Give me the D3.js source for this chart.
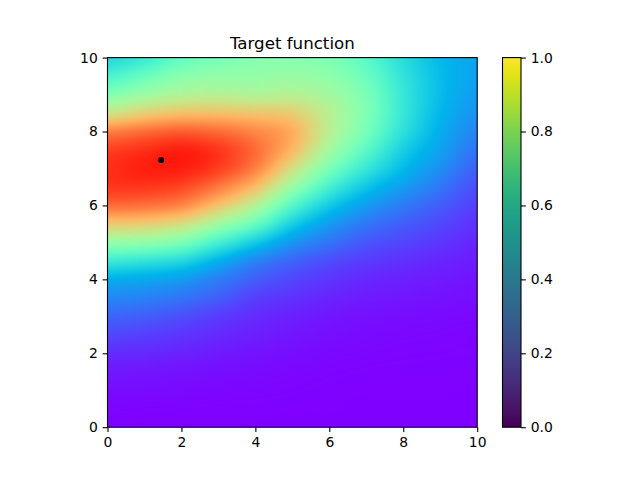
<!DOCTYPE html>
<html><head><meta charset="utf-8">
<script src="https://cdn.jsdelivr.net/npm/d3@7/dist/d3.min.js"></script>
<style>body{margin:0;background:#fff}svg{display:block}</style>
</head><body>
<script>
// ---- data ----
const title = "Target function";
const xGrid = [0,1,2,3,4,5,6,7,8,9,10];
const yGrid = [10,9.5,9,8.5,8,7.5,7,6.5,6,5.5,5,4.5,4,3.5,3,2.5,2,1.5,1,0.5,0];
// one column of values per x in xGrid, listed top (y=10) to bottom (y=0)
const colX0  = [0.32,0.40,0.51,0.65,0.83,0.92,0.94,0.93,0.86,0.71,0.54,0.37,0.24,0.18,0.13,0.09,0.055,0.03,0.015,0.005,0];
const colX1  = [0.37,0.46,0.56,0.70,0.86,0.94,0.96,0.93,0.85,0.70,0.53,0.35,0.23,0.17,0.12,0.08,0.05,0.027,0.013,0.004,0];
const colX2  = [0.45,0.52,0.60,0.73,0.88,0.96,0.96,0.91,0.82,0.66,0.49,0.32,0.21,0.15,0.10,0.068,0.042,0.022,0.011,0.003,0];
const colX3  = [0.49,0.54,0.61,0.73,0.86,0.93,0.92,0.84,0.72,0.56,0.39,0.245,0.165,0.12,0.075,0.052,0.032,0.017,0.008,0.002,0];
const colX4  = [0.52,0.54,0.60,0.72,0.82,0.86,0.83,0.73,0.60,0.45,0.29,0.175,0.12,0.08,0.055,0.038,0.023,0.012,0.006,0.002,0];
const colX5  = [0.52,0.55,0.61,0.70,0.76,0.74,0.66,0.55,0.42,0.30,0.20,0.13,0.09,0.062,0.04,0.027,0.016,0.008,0.004,0.001,0];
const colX6  = [0.50,0.53,0.57,0.61,0.61,0.57,0.49,0.39,0.29,0.21,0.15,0.098,0.067,0.045,0.028,0.018,0.01,0.005,0.002,0.001,0];
const colX7  = [0.43,0.46,0.49,0.50,0.48,0.43,0.36,0.28,0.21,0.155,0.11,0.075,0.05,0.034,0.02,0.012,0.007,0.003,0.001,0,0];
const colX8  = [0.33,0.35,0.36,0.36,0.34,0.30,0.26,0.21,0.16,0.12,0.088,0.06,0.04,0.027,0.015,0.009,0.005,0.002,0.001,0,0];
const colX9  = [0.26,0.265,0.265,0.255,0.24,0.22,0.19,0.155,0.12,0.092,0.068,0.047,0.032,0.021,0.012,0.007,0.004,0.002,0.001,0,0];
const colX10 = [0.225,0.22,0.21,0.195,0.175,0.15,0.125,0.10,0.08,0.062,0.047,0.035,0.024,0.016,0.009,0.005,0.003,0.001,0,0,0];
const bestPoint = [1.45, 7.23];
const axisTicks = [0,2,4,6,8,10];
const cbarTicks = [0,0.2,0.4,0.6,0.8,1.0];

const columns = [colX0,colX1,colX2,colX3,colX4,colX5,colX6,colX7,colX8,colX9,colX10];

// ---- layout ----
const W = 640, H = 480;
const L = 107.5, R = 477.2, T = 57.6, B = 427.2;
const cbL = 502.5, cbR = 521;
const font = "'DejaVu Sans', sans-serif";

const x = d3.scaleLinear().domain([0,10]).range([L,R]);
const y = d3.scaleLinear().domain([0,10]).range([B,T]);
const xi = d3.scaleLinear().domain(d3.extent(xGrid)).range([0, xGrid.length-1]);
const yi = d3.scaleLinear().domain([yGrid[0], yGrid[yGrid.length-1]]).range([0, yGrid.length-1]);

function rainbow(v){
  v = Math.max(0, Math.min(1, v));
  const r = Math.min(1, Math.abs(2*v - 0.5));
  const g = Math.sin(Math.PI*v);
  const b = Math.cos(Math.PI*v/2);
  return [Math.round(r*255), Math.round(g*255), Math.round(b*255)];
}
function cub(p0,p1,p2,p3,t){
  return p1 + 0.5*t*(p2 - p0 + t*(2*p0 - 5*p1 + 4*p2 - p3 + t*(3*(p1 - p2) + p3 - p0)));
}
function val(ci, ri){
  ci = Math.max(0, Math.min(columns.length-1, ci));
  ri = Math.max(0, Math.min(yGrid.length-1, ri));
  return columns[ci][ri];
}
function sample(dx, dy){
  const fx = xi(dx), fy = yi(dy);
  const i = Math.min(Math.floor(fx), columns.length-2), j = Math.min(Math.floor(fy), yGrid.length-2);
  const tx = fx - i, ty = fy - j;
  const rows = [];
  for (let m=-1; m<=2; m++){
    rows.push(cub(val(i-1,j+m), val(i,j+m), val(i+1,j+m), val(i+2,j+m), tx));
  }
  return cub(rows[0], rows[1], rows[2], rows[3], ty);
}

const pw = Math.round(R - L), ph = Math.round(B - T);
const canvas = document.createElement("canvas");
canvas.width = pw; canvas.height = ph;
const ctx = canvas.getContext("2d");
const img = ctx.createImageData(pw, ph);
for (let py=0; py<ph; py++){
  for (let px=0; px<pw; px++){
    const dx = x.invert(L + (px+0.5)*(R-L)/pw);
    const dy = y.invert(T + (py+0.5)*(B-T)/ph);
    const c = rainbow(sample(dx, dy));
    const k = (py*pw + px)*4;
    img.data[k]=c[0]; img.data[k+1]=c[1]; img.data[k+2]=c[2]; img.data[k+3]=255;
  }
}
ctx.putImageData(img, 0, 0);

const svg = d3.select("body").append("svg").attr("width", W).attr("height", H)
  .style("font-family", font);

svg.append("image").attr("x", L).attr("y", T).attr("width", R-L).attr("height", B-T)
  .attr("preserveAspectRatio","none").attr("href", canvas.toDataURL());

svg.append("circle").attr("cx", x(bestPoint[0])).attr("cy", y(bestPoint[1])).attr("r", 3).attr("fill", "#000");

const tickLen = 4.86, pad = 4.86, fs = 13.9;
const xa = svg.append("g").attr("transform", `translate(0,${B})`)
  .call(d3.axisBottom(x).tickValues(axisTicks).tickSize(tickLen).tickPadding(pad).tickFormat(d3.format("d")));
const ya = svg.append("g").attr("transform", `translate(${L},0)`)
  .call(d3.axisLeft(y).tickValues(axisTicks).tickSize(tickLen).tickPadding(pad).tickFormat(d3.format("d")));
[xa, ya].forEach(g => {
  g.select(".domain").remove();
  g.selectAll("line").attr("stroke","#000").attr("stroke-width",1.1);
  g.selectAll("text").attr("font-size", fs).attr("font-family", font).attr("fill","#000");
});
svg.append("rect").attr("x", L).attr("y", T).attr("width", R-L).attr("height", B-T)
  .attr("fill","none").attr("stroke","#000").attr("stroke-width",1.1);

svg.append("text").attr("x", (L+R)/2).attr("y", T - 8.5).attr("text-anchor","middle")
  .attr("font-size", 16.67).attr("fill","#000").text(title);

// colorbar
const defs = svg.append("defs");
const grad = defs.append("linearGradient").attr("id","vir").attr("x1",0).attr("y1",1).attr("x2",0).attr("y2",0);
d3.range(0, 1.0001, 0.05).forEach(t => grad.append("stop").attr("offset", t).attr("stop-color", d3.interpolateViridis(t)));
const cy = d3.scaleLinear().domain([0,1]).range([B,T]);
svg.append("rect").attr("x", cbL).attr("y", T).attr("width", cbR-cbL).attr("height", B-T).attr("fill","url(#vir)");
const ca = svg.append("g").attr("transform", `translate(${cbR},0)`)
  .call(d3.axisRight(cy).tickValues(cbarTicks).tickSize(tickLen).tickPadding(pad).tickFormat(d3.format(".1f")));
ca.select(".domain").remove();
ca.selectAll("line").attr("stroke","#000").attr("stroke-width",1.1);
ca.selectAll("text").attr("font-size", fs).attr("font-family", font).attr("fill","#000");
svg.append("rect").attr("x", cbL).attr("y", T).attr("width", cbR-cbL).attr("height", B-T)
  .attr("fill","none").attr("stroke","#000").attr("stroke-width",1.1);
</script>
</body></html>
